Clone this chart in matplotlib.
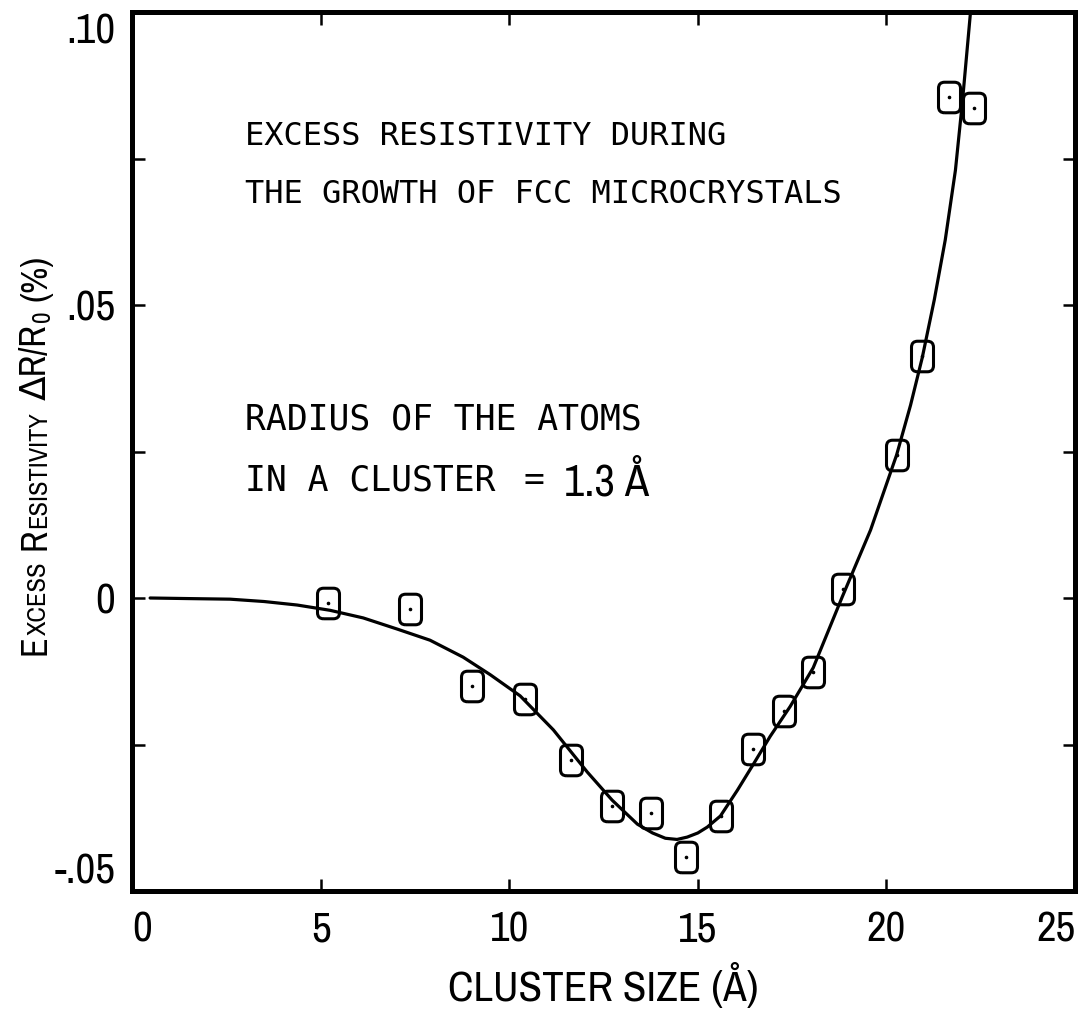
import matplotlib
matplotlib.use("Agg")
import matplotlib.pyplot as plt
from matplotlib import font_manager as fm
from matplotlib.path import Path
from matplotlib.transforms import IdentityTransform
from matplotlib.ticker import MultipleLocator, FixedLocator

# Measured excess resistivity versus cluster size
cluster_size = [5.20, 7.37, 9.02, 10.42, 11.64, 12.73, 13.77, 14.69, 15.62,
                16.47, 17.29, 18.06, 18.85, 20.27, 20.95, 21.67, 22.31]
resistivity = [-0.0009, -0.0019, -0.0150, -0.0172, -0.0276, -0.0355, -0.0367,
               -0.0442, -0.0372, -0.0258, -0.0193, -0.0126, 0.0015, 0.0244,
               0.0413, 0.0855, 0.0836]

# Calculated curve
curve_size = [0.48, 1.50, 2.60, 3.50, 4.38, 5.25, 6.13, 7.03, 7.90, 8.78,
              9.50, 10.29, 11.17, 12.07, 12.73, 13.40, 13.80, 14.14, 14.45,
              14.72, 15.00, 15.25, 15.60, 16.05, 16.47, 16.92, 17.45, 18.06,
              18.83, 19.58, 20.27, 20.64, 20.95, 21.27, 21.56, 21.83, 22.02,
              22.23]
curve_res = [0.0, -0.0001, -0.0002, -0.0006, -0.0012, -0.0021, -0.0034,
             -0.0053, -0.0072, -0.0101, -0.0131, -0.0167, -0.0225, -0.0297,
             -0.0345, -0.0386, -0.0401, -0.0410, -0.0412, -0.0408, -0.0401,
             -0.0391, -0.0372, -0.0328, -0.0284, -0.0236, -0.0185, -0.0119,
             0.0002, 0.0116, 0.0244, 0.0329, 0.0410, 0.0509, 0.0611, 0.0730,
             0.0850, 0.1000]

x_ticks = [0, 5, 10, 15, 20, 25]
x_tick_labels = ["0", "5", "10", "15", "20", "25"]
y_ticks = [-0.05, 0.0, 0.05, 0.10]
y_tick_labels = ["-.05", "0", ".05", ".10"]


def narrow_font():
    """Pick a condensed sans face if one is installed."""
    entries = fm.fontManager.ttflist
    for f in entries:
        if f.name == "Liberation Sans Narrow" and f.style == "normal":
            return {"family": [f.name, "DejaVu Sans"]}
    for f in entries:
        if ("Condensed" in f.name or "Narrow" in f.name) and f.style == "normal":
            return {"family": [f.name, "DejaVu Sans"]}
    for f in entries:
        if (str(f.stretch) in ("condensed", "semi-condensed")
                and f.style == "normal"
                and f.name in ("DejaVu Sans", "Noto Sans", "Open Sans",
                               "Roboto", "Liberation Sans")):
            return {"family": [f.name, "DejaVu Sans"], "stretch": f.stretch}
    return {"family": ["Liberation Sans", "DejaVu Sans"]}


NARROW = narrow_font()
MONO = ["DejaVu Sans Mono"]

W, H = 1081, 1030
fig = plt.figure(figsize=(W / 100, H / 100), dpi=100)
ax = fig.add_axes([132 / W, 1 - 891 / H, (1075 - 132) / W, (891 - 12) / H])
ax.set_xlim(0, 25)
ax.set_ylim(-0.05, 0.10)

# rounded-rectangle marker
w, h, r = 0.36, 0.5, 0.2
verts = [(-w + r, -h), (w - r, -h), (w, -h), (w, -h + r), (w, h - r), (w, h),
         (w - r, h), (-w + r, h), (-w, h), (-w, h - r), (-w, -h + r),
         (-w, -h), (-w + r, -h)]
codes = [Path.MOVETO, Path.LINETO, Path.CURVE3, Path.CURVE3, Path.LINETO,
         Path.CURVE3, Path.CURVE3, Path.LINETO, Path.CURVE3, Path.CURVE3,
         Path.LINETO, Path.CURVE3, Path.CURVE3]
box = Path(verts, codes)

ax.plot(curve_size, curve_res, color="black", lw=2.3, solid_capstyle="round",
        solid_joinstyle="round", zorder=2)
ax.plot(cluster_size, resistivity, linestyle="none", marker=box,
        markersize=22, markerfacecolor="none", markeredgecolor="black",
        markeredgewidth=2.2, zorder=3)
ax.plot(cluster_size, resistivity, linestyle="none", marker="o",
        markersize=1.6, color="black", zorder=4)

for side in ax.spines.values():
    side.set_linewidth(3.6)

ax.xaxis.set_major_locator(FixedLocator(x_ticks))
ax.set_xticklabels(x_tick_labels)
ax.yaxis.set_major_locator(FixedLocator(y_ticks))
ax.set_yticklabels(y_tick_labels)
ax.yaxis.set_minor_locator(MultipleLocator(0.025))
ax.tick_params(which="both", direction="in", length=9, width=1.8,
               top=True, right=True)
ax.tick_params(axis="x", which="major", pad=14)
ax.tick_params(axis="y", which="major", pad=12)
for lab in ax.get_xticklabels() + ax.get_yticklabels():
    lab.set_fontproperties(fm.FontProperties(size=31, **NARROW))

# end labels are kept inside the frame
xl = ax.get_xticklabels()
xl[0].set_ha("left")
xl[-1].set_ha("right")
yl = ax.get_yticklabels()
yl[0].set_va("bottom")
yl[-1].set_va("top")

ax.set_xlabel("CLUSTER SIZE (Å)",
              fontproperties=fm.FontProperties(size=31, **NARROW),
              labelpad=10)

# annotation block
ax.text(3.0, 0.0787, "EXCESS RESISTIVITY DURING", family=MONO, fontsize=23,
        va="center", ha="left")
ax.text(3.0, 0.0688, "THE GROWTH OF FCC MICROCRYSTALS", family=MONO,
        fontsize=23, va="center", ha="left")
ax.text(3.0, 0.0304, "RADIUS OF THE ATOMS", family=MONO, fontsize=25,
        va="center", ha="left")
ax.text(3.0, 0.0201, "IN A CLUSTER", family=MONO, fontsize=25,
        va="center", ha="left")
ax.text(10.65, 0.0201, "=", family=MONO, fontsize=25, va="center",
        ha="center")
ax.text(11.45, 0.0197, "1.3 Å",
        fontproperties=fm.FontProperties(size=32, **NARROW),
        va="center", ha="left")

fig.canvas.draw()
renderer = fig.canvas.get_renderer()

# y-axis title in small capitals, assembled piece by piece upward
big, small = 26, 19
pieces = [("E", big, 0), ("XCESS", small, 12), ("R", big, 0),
          ("ESISTIVITY", small, 12), ("ΔR/R", big, 0),
          (r"$_\mathregular{0}$", big, 10), ("(%)", big, 0)]
ypos = H - 655
xbase = 46
for s, size, gap in pieces:
    t = fig.text(xbase, ypos, s, rotation=90, rotation_mode="anchor",
                 ha="left", va="baseline",
                 fontproperties=fm.FontProperties(size=size, **NARROW),
                 transform=IdentityTransform())
    ext = t.get_window_extent(renderer)
    ypos += ext.height + gap

fig.savefig("out.png", dpi=100)
